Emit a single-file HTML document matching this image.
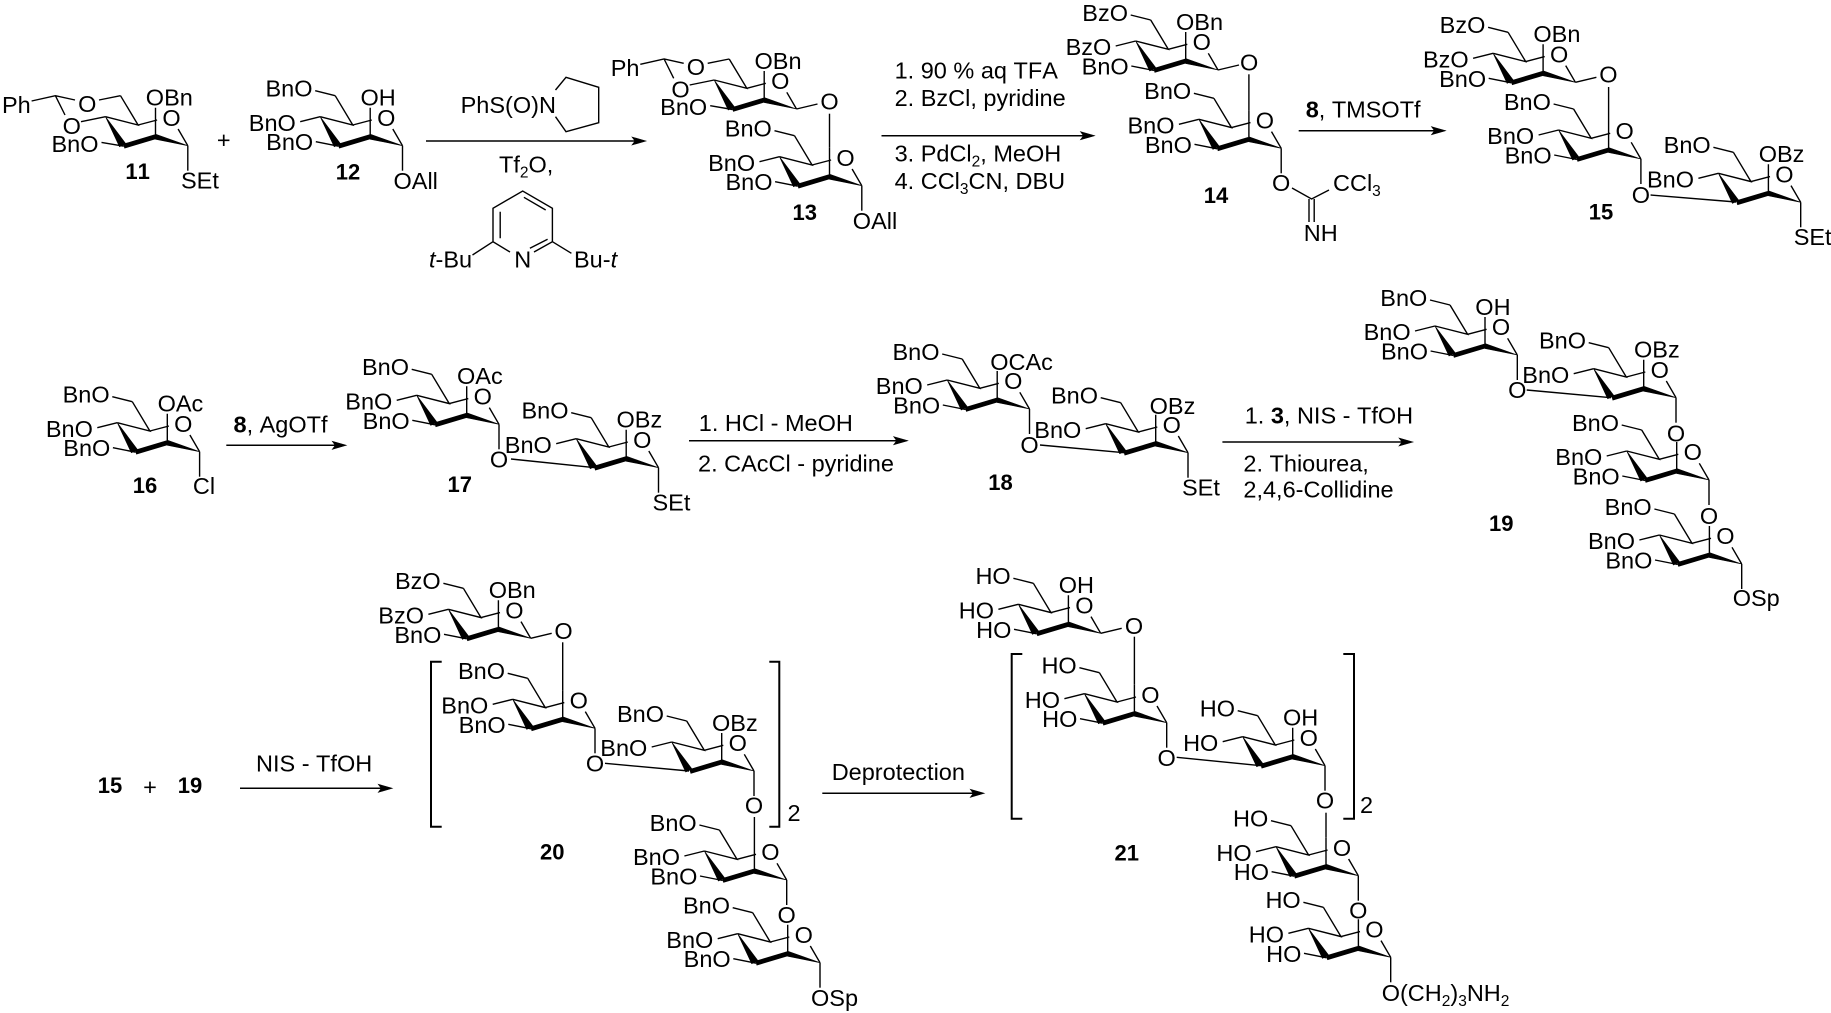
<!DOCTYPE html>
<html><head><meta charset="utf-8"><style>
html,body{margin:0;padding:0;background:#fff}
svg{display:block;stroke:#000;stroke-width:1.4;fill:none}
text{stroke:none;fill:#000;font:23.5px "Liberation Sans",sans-serif;font-kerning:none;transform:translate(0,-.8px)}
text.e{text-anchor:end}
text.m{text-anchor:middle}
text.b{font-weight:bold;font-size:22px;text-anchor:middle}
tspan.u{font-size:15.5px}
.f{fill:#000;stroke:#000;stroke-width:.6}
</style></head><body>
<svg width="1831" height="1013" viewBox="0 0 1831 1013" xmlns="http://www.w3.org/2000/svg">
<defs>
<g id="c">
<path d="M-82.3-29L-49.7-20.7L-67.3-50M-49.7-20.7L-30.7-25.7M-9.7-16.7L0 0M-32.3-9V-38"/>
<path class="f" d="M-82.3-29L-68.3 1L-62-2Z"/>
<path d="M-64 .5L-32.3-9" stroke-width="4.8"/>
<path class="f" d="M-32.3-11.5V-6.5L0 0Z"/>
</g>
<g id="r"><use href="#c"/><path d="M-87.3-55L-67.3-50M-102.3-24L-82.3-29"/></g>
<g id="r3"><use href="#r"/><path d="M-86.7-4L-64 .5"/></g>
<g id="bz"><use href="#c"/><path d="M-86.3-3.3L-64 .5M-156.2-44.7L-132.4-50L-112.8-45.7M-132.4-50L-122.8-30.7M-106.8-24L-82.3-29M-88.8-45.7L-67.3-50"/></g>
<path id="d" d="M0 0V25"/>
<path id="l" d="M0 0L21-5"/>
</defs>

<!-- 11 -->
<g transform="translate(187.8 145.7)"><use href="#bz"/><use href="#d"/>
<text x="-185.8" y="-32.1">Ph</text><text class="m" x="-100.6" y="-33">O</text><text class="m" x="-116" y="-10.8">O</text>
<text class="m" x="-16.3" y="-19">O</text><text x="-42" y="-39.4">OBn</text><text class="e" x="-89.3" y="6.9">BnO</text><text x="-6.8" y="43.5">SEt</text></g>
<text class="b" x="137.6" y="180">11</text>
<text class="m" x="223.8" y="149">+</text>

<!-- 12 -->
<g transform="translate(402.5 145.7)"><use href="#r3"/><use href="#d"/>
<text class="e" x="-90" y="-48.4">BnO</text><text class="e" x="-106.7" y="-14">BnO</text><text class="e" x="-89.3" y="5.3">BnO</text>
<text class="m" x="-16.3" y="-19">O</text><text x="-42" y="-39.4">OH</text><text x="-9" y="44">OAll</text></g>
<text class="b" x="348" y="180.5">12</text>

<!-- arrow 1 + reagents -->
<path d="M426 141H640" stroke-width="1.5"/><path class="f" d="M646 141l-14-4l3 4l-3 4z"/>
<text x="460.6" y="114">PhS(O)N</text>
<path d="M555.5 90L566 77.3L598.7 87.3V122.7L566 131.7L555.5 116.7"/>
<text x="499" y="173.3">Tf<tspan class="u" dy="5">2</tspan><tspan dy="-5">O,</tspan></text>
<path d="M510 252L493 241.7V208.3L522.7 191L552.4 208.3V241.7L534 252M500.2 211.7V238.3M523.9 197.3L545.7 210M529.9 248.3L547.6 239.3M493 241.7L472.5 255M552.4 241.7L571.4 253.3"/>
<text class="m" x="522.7" y="268.3">N</text>
<text x="429" y="268.3"><tspan font-style="italic">t</tspan>-Bu</text>
<text x="574" y="268.3">Bu-<tspan font-style="italic">t</tspan></text>

<!-- 13 -->
<g transform="translate(796.5 109)"><use href="#bz"/><use href="#l"/>
<text x="-185.8" y="-32.1">Ph</text><text class="m" x="-100.6" y="-33">O</text><text class="m" x="-116" y="-10.8">O</text>
<text class="m" x="-16.3" y="-19">O</text><text x="-42" y="-39.4">OBn</text><text class="e" x="-89.3" y="6.9">BnO</text><text class="m" x="33" y="1.5">O</text></g>
<g transform="translate(861.8 185.7)"><use href="#r3"/><use href="#d"/><path d="M-32.3-38V-72"/>
<text class="e" x="-90" y="-48.4">BnO</text><text class="e" x="-106.7" y="-14">BnO</text><text class="e" x="-89.3" y="5.3">BnO</text>
<text class="m" x="-16.3" y="-19">O</text><text x="-9" y="44">OAll</text></g>
<text class="b" x="804.8" y="221">13</text>

<!-- arrow 2 -->
<text x="894.6" y="79.3">1. 90 % aq TFA</text>
<text x="894.6" y="106.6">2. BzCl, pyridine</text>
<path d="M881.5 135.7H1088" stroke-width="1.5"/><path class="f" d="M1094.5 135.7l-14-4l3 4l-3 4z"/>
<text x="894.6" y="162.3">3. PdCl<tspan class="u" dy="5">2</tspan><tspan dy="-5">, MeOH</tspan></text>
<text x="894.6" y="190">4. CCl<tspan class="u" dy="5">3</tspan><tspan dy="-5">CN, DBU</tspan></text>

<!-- 14 -->
<g transform="translate(1218 70)"><use href="#r3"/><use href="#l"/>
<text class="e" x="-90" y="-48.4">BzO</text><text class="e" x="-106.7" y="-14">BzO</text><text class="e" x="-89.3" y="5.3">BnO</text>
<text class="m" x="-16.3" y="-19">O</text><text x="-42" y="-39.4">OBn</text><text class="m" x="31.2" y="1.5">O</text></g>
<g transform="translate(1281.2 148.3)"><use href="#r3"/><use href="#d"/><path d="M-32.3-38V-74"/>
<text class="e" x="-90" y="-48.4">BnO</text><text class="e" x="-106.7" y="-14">BnO</text><text class="e" x="-89.3" y="5.3">BnO</text>
<text class="m" x="-16.3" y="-19">O</text><text class="m" x="0" y="43.5">O</text></g>
<path d="M1292 188L1311.6 199L1329 190M1309 199V222M1314.2 199V222"/>
<text x="1333" y="191.6">CCl<tspan class="u" dy="5">3</tspan></text>
<text x="1303.8" y="241.6">NH</text>
<text class="b" x="1216" y="204">14</text>

<!-- arrow 3 -->
<text x="1305.7" y="118.3"><tspan font-weight="bold">8</tspan>, TMSOTf</text>
<path d="M1298.7 130.7H1439" stroke-width="1.5"/><path class="f" d="M1445.5 130.7l-14-4l3 4l-3 4z"/>

<!-- 15 -->
<g transform="translate(1575.4 82.3)"><use href="#r3"/><use href="#l"/>
<text class="e" x="-90" y="-48.4">BzO</text><text class="e" x="-106.7" y="-14">BzO</text><text class="e" x="-89.3" y="5.3">BnO</text>
<text class="m" x="-16.3" y="-19">O</text><text x="-42" y="-39.4">OBn</text><text class="m" x="33" y="1">O</text></g>
<g transform="translate(1640.9 159)"><use href="#r3"/><use href="#d"/><path d="M-32.3-38V-72"/>
<text class="e" x="-90" y="-48.4">BnO</text><text class="e" x="-106.7" y="-14">BnO</text><text class="e" x="-89.3" y="5.3">BnO</text>
<text class="m" x="-16.3" y="-19">O</text><text class="m" x="0" y="45">O</text></g>
<path d="M1650.6 195L1736 202"/>
<g transform="translate(1800.7 202.3)"><use href="#r"/><use href="#d"/>
<text class="e" x="-90" y="-48.4">BnO</text><text class="e" x="-106.7" y="-14">BnO</text>
<text class="m" x="-16.3" y="-19">O</text><text x="-42" y="-39.4">OBz</text><text x="-7" y="43.5">SEt</text></g>
<text class="b" x="1601" y="220.5">15</text>

<!-- 16 -->
<g transform="translate(199.6 451.7)"><use href="#r3"/><use href="#d"/>
<text class="e" x="-90" y="-48.4">BnO</text><text class="e" x="-106.7" y="-14">BnO</text><text class="e" x="-89.3" y="5.3">BnO</text>
<text class="m" x="-16.3" y="-19">O</text><text x="-42" y="-39.4">OAc</text><text x="-6.7" y="43">Cl</text></g>
<text class="b" x="145" y="494">16</text>

<!-- arrow 4 -->
<text x="233.5" y="433.3"><tspan font-weight="bold">8</tspan>, AgOTf</text>
<path d="M226.3 445.3H340" stroke-width="1.5"/><path class="f" d="M346.3 445.3l-14-4l3 4l-3 4z"/>

<!-- 17 -->
<g transform="translate(499 424.3)"><use href="#r3"/><use href="#d"/>
<text class="e" x="-90" y="-48.4">BnO</text><text class="e" x="-106.7" y="-14">BnO</text><text class="e" x="-89.3" y="5.3">BnO</text>
<text class="m" x="-16.3" y="-19">O</text><text x="-42" y="-39.4">OAc</text><text class="m" x="0" y="44">O</text></g>
<path d="M511 459L595 467.7"/>
<g transform="translate(658.5 467.7)"><use href="#r"/><use href="#d"/>
<text class="e" x="-90" y="-48.4">BnO</text><text class="e" x="-106.7" y="-14">BnO</text>
<text class="m" x="-16.3" y="-19">O</text><text x="-42" y="-39.4">OBz</text><text x="-6" y="43.5">SEt</text></g>
<text class="b" x="459.8" y="493">17</text>

<!-- arrow 5 -->
<text x="698.8" y="431.6">1. HCl - MeOH</text>
<path d="M689 440.7H901.5" stroke-width="1.5"/><path class="f" d="M907.7 440.7l-14-4l3 4l-3 4z"/>
<text x="698" y="472.3">2. CAcCl - pyridine</text>

<!-- 18 -->
<g transform="translate(1029.5 409)"><use href="#r3"/><use href="#d"/>
<text class="e" x="-90" y="-48.4">BnO</text><text class="e" x="-106.7" y="-14">BnO</text><text class="e" x="-89.3" y="5.3">BnO</text>
<text class="m" x="-16.3" y="-19">O</text><text x="-39.3" y="-38">OCAc</text><text class="m" x="0" y="45">O</text></g>
<path d="M1040 445L1124 452.7"/>
<g transform="translate(1188 452.7)"><use href="#r"/><use href="#d"/>
<text class="e" x="-90" y="-48.4">BnO</text><text class="e" x="-106.7" y="-14">BnO</text>
<text class="m" x="-16.3" y="-19">O</text><text x="-38.4" y="-37.7">OBz</text><text x="-6" y="43.5">SEt</text></g>
<text class="b" x="1000.5" y="491">18</text>

<!-- arrow 6 -->
<text x="1244.7" y="424.3">1. <tspan font-weight="bold">3</tspan>, NIS - TfOH</text>
<path d="M1222.4 442H1407" stroke-width="1.5"/><path class="f" d="M1413 442l-14-4l3 4l-3 4z"/>
<text x="1243.4" y="472.3">2. Thiourea,</text>
<text x="1243.4" y="498.3">2,4,6-Collidine</text>

<!-- 19 -->
<g transform="translate(1517.3 355)"><use href="#r3"/><use href="#d"/>
<text class="e" x="-90" y="-48.4">BnO</text><text class="e" x="-106.7" y="-14">BnO</text><text class="e" x="-89.3" y="5.3">BnO</text>
<text class="m" x="-16.3" y="-19">O</text><text x="-42" y="-39.4">OH</text><text class="m" x="0" y="44">O</text></g>
<path d="M1526.7 390L1611 397.7"/>
<g transform="translate(1676 397.7)"><use href="#r"/><use href="#d"/>
<text class="e" x="-90" y="-48.4">BnO</text><text class="e" x="-106.7" y="-14">BnO</text>
<text class="m" x="-16.3" y="-19">O</text><text x="-42" y="-39.4">OBz</text><text class="m" x="0" y="44.5">O</text></g>
<g transform="translate(1709 480)"><use href="#r3"/><use href="#d"/>
<text class="e" x="-90" y="-48.4">BnO</text><text class="e" x="-106.7" y="-14">BnO</text><text class="e" x="-89.3" y="5.3">BnO</text>
<text class="m" x="-16.3" y="-19">O</text><text class="m" x="0" y="45">O</text></g>
<g transform="translate(1741.7 564)"><use href="#r3"/><use href="#d"/>
<text class="e" x="-90" y="-48.4">BnO</text><text class="e" x="-106.7" y="-14">BnO</text><text class="e" x="-89.3" y="5.3">BnO</text>
<text class="m" x="-16.3" y="-19">O</text><text x="-9" y="43">OSp</text></g>
<text class="b" x="1501.3" y="532">19</text>

<!-- row 3 left -->
<text class="b" x="110" y="794">15</text>
<text class="m" x="150" y="796">+</text>
<text class="b" x="190" y="794">19</text>
<text x="256" y="772.3">NIS - TfOH</text>
<path d="M240 788.3H386" stroke-width="1.5"/><path class="f" d="M392.3 788.3l-14-4l3 4l-3 4z"/>

<!-- 20 -->
<path d="M441.7 661.7H431V826.7H441.7M769.3 661.7H779.3V826.7H769.3" stroke-width="2"/>
<text x="787.5" y="822">2</text>
<g transform="translate(530.7 638.3)"><use href="#r3"/><use href="#l"/>
<text class="e" x="-90" y="-48.4">BzO</text><text class="e" x="-106.7" y="-14">BzO</text><text class="e" x="-89.3" y="5.3">BnO</text>
<text class="m" x="-16.3" y="-19">O</text><text x="-42" y="-39.4">OBn</text><text class="m" x="32.8" y="1.5">O</text></g>
<g transform="translate(595 728.3)"><use href="#r3"/><use href="#d"/><path d="M-32.3-38V-86"/>
<text class="e" x="-90" y="-48.4">BnO</text><text class="e" x="-106.7" y="-14">BnO</text><text class="e" x="-89.3" y="5.3">BnO</text>
<text class="m" x="-16.3" y="-19">O</text><text class="m" x="0" y="44">O</text></g>
<path d="M605 763.3L689 771"/>
<g transform="translate(754 771)"><use href="#r"/><use href="#d"/>
<text class="e" x="-90" y="-48.4">BnO</text><text class="e" x="-106.7" y="-14">BnO</text>
<text class="m" x="-16.3" y="-19">O</text><text x="-42" y="-39.4">OBz</text><text class="m" x="0" y="43.5">O</text></g>
<g transform="translate(786.7 880)"><use href="#r3"/><use href="#d"/><path d="M-32.3-38V-63"/>
<text class="e" x="-90" y="-48.4">BnO</text><text class="e" x="-106.7" y="-14">BnO</text><text class="e" x="-89.3" y="5.3">BnO</text>
<text class="m" x="-16.3" y="-19">O</text><text class="m" x="0" y="44">O</text></g>
<g transform="translate(820 962.7)"><use href="#r3"/><use href="#d"/>
<text class="e" x="-90" y="-48.4">BnO</text><text class="e" x="-106.7" y="-14">BnO</text><text class="e" x="-89.3" y="5.3">BnO</text>
<text class="m" x="-16.3" y="-19">O</text><text x="-9" y="44">OSp</text></g>
<text class="b" x="552.3" y="860.5">20</text>

<!-- deprotection -->
<text x="831.7" y="781">Deprotection</text>
<path d="M822.3 793.3H978" stroke-width="1.5"/><path class="f" d="M984.3 793.3l-14-4l3 4l-3 4z"/>

<!-- 21 -->
<path d="M1022.3 654H1011.7V818.7H1022.3M1343.3 654H1354V818.7H1343.3" stroke-width="2"/>
<text x="1360" y="814">2</text>
<g transform="translate(1100.7 633.3)"><use href="#r3"/><use href="#l"/>
<text class="e" x="-90" y="-48.4">HO</text><text class="e" x="-106.7" y="-14">HO</text><text class="e" x="-89.3" y="5.3">HO</text>
<text class="m" x="-16.3" y="-19">O</text><text x="-42" y="-39.4">OH</text><text class="m" x="33.3" y="1.5">O</text></g>
<g transform="translate(1166.7 722.7)"><use href="#r3"/><use href="#d"/><path d="M-32.3-38V-86"/>
<text class="e" x="-90" y="-48.4">HO</text><text class="e" x="-106.7" y="-14">HO</text><text class="e" x="-89.3" y="5.3">HO</text>
<text class="m" x="-16.3" y="-19">O</text><text class="m" x="0" y="44">O</text></g>
<path d="M1176.7 757.3L1261 765.7"/>
<g transform="translate(1325 765.7)"><use href="#r"/><use href="#d"/>
<text class="e" x="-90" y="-48.4">HO</text><text class="e" x="-106.7" y="-14">HO</text>
<text class="m" x="-16.3" y="-19">O</text><text x="-42" y="-39.4">OH</text><text class="m" x="0" y="43.5">O</text></g>
<g transform="translate(1358.3 875.7)"><use href="#r3"/><use href="#d"/><path d="M-32.3-38V-63"/>
<text class="e" x="-90" y="-48.4">HO</text><text class="e" x="-106.7" y="-14">HO</text><text class="e" x="-89.3" y="5.3">HO</text>
<text class="m" x="-16.3" y="-19">O</text><text class="m" x="0" y="43.5">O</text></g>
<g transform="translate(1390.7 957.3)"><use href="#r3"/><use href="#d"/>
<text class="e" x="-90" y="-48.4">HO</text><text class="e" x="-106.7" y="-14">HO</text><text class="e" x="-89.3" y="5.3">HO</text>
<text class="m" x="-16.3" y="-19">O</text><text x="-9" y="44.3">O(CH<tspan class="u" dy="5">2</tspan><tspan dy="-5">)</tspan><tspan class="u" dy="5">3</tspan><tspan dy="-5">NH</tspan><tspan class="u" dy="5">2</tspan></text></g>
<text class="b" x="1126.7" y="861.5">21</text>
</svg>
</body></html>
